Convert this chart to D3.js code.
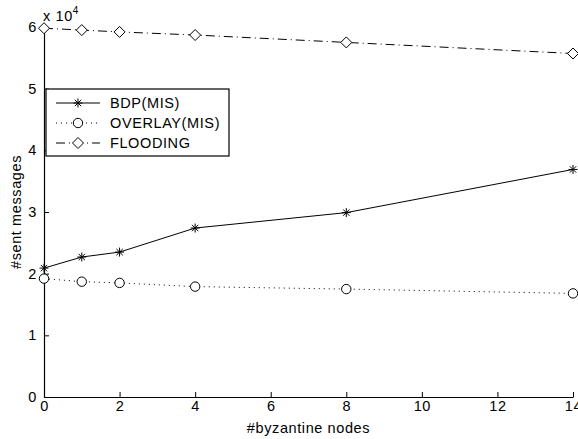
<!DOCTYPE html>
<html>
<head>
<meta charset="utf-8">
<script src="https://cdn.jsdelivr.net/npm/d3@7"></script>
<style>
  body { margin: 0; background: #fff; }
  svg { display: block; }
  text { font-family: "Liberation Sans", Arial, sans-serif; fill: #000; }
</style>
</head>
<body>
<div class="chart"></div>
<script>
var X_NODES = [0, 1, 2, 4, 8, 14];
var BDP_MIS = [2.09, 2.27, 2.35, 2.74, 2.99, 3.69];
var OVERLAY_MIS = [1.92, 1.87, 1.85, 1.79, 1.75, 1.68];
var FLOODING = [5.98, 5.95, 5.92, 5.87, 5.75, 5.57];
var X_TICKS = [0, 2, 4, 6, 8, 10, 12, 14];
var Y_TICKS = [0, 1, 2, 3, 4, 5, 6];

var W = 578, H = 439;
var margin = { left: 44, right: 5, top: 27, bottom: 42 };
/* MATLAB export looks horizontally stretched, fake it with letter spacing */
var FONT_SIZE = "14.5px";
var LETTER_SPACING = "0.6px";

var svg = d3.select("div.chart").append("svg")
  .attr("width", W).attr("height", H);

var x = d3.scaleLinear().domain([0, 14]).range([margin.left, W - margin.right]);
var y = d3.scaleLinear().domain([0, 6]).range([H - margin.bottom, margin.top]);

/* axes: ticks pointing inwards, only left and bottom */
var xAxis = svg.append("g")
  .attr("transform", "translate(0," + y(0) + ")")
  .call(d3.axisBottom(x).tickValues(X_TICKS).tickFormat(d3.format("d"))
          .tickSizeInner(-5).tickSizeOuter(0).tickPadding(7));
var yAxis = svg.append("g")
  .attr("transform", "translate(" + x(0) + ",0)")
  .call(d3.axisLeft(y).tickValues(Y_TICKS).tickFormat(d3.format("d"))
          .tickSizeInner(-5).tickSizeOuter(0).tickPadding(7));

[xAxis, yAxis].forEach(function styleAxis(a) {
  a.select(".domain").attr("stroke", "#000").attr("stroke-width", 1.2);
  a.selectAll(".tick line").attr("stroke", "#000");
  a.selectAll(".tick text")
   .style("font-family", "Liberation Sans, Arial, sans-serif")
   .style("font-size", FONT_SIZE).style("letter-spacing", LETTER_SPACING)
   .attr("fill", "#000");
});
xAxis.selectAll(".tick text").attr("dy", "0.5em");

function styled(t) {
  return t.style("font-size", FONT_SIZE).style("letter-spacing", LETTER_SPACING);
}

/* exponent label */
var expo = styled(svg.append("text").attr("x", 43).attr("y", 21));
expo.append("tspan").text("x 10");
expo.append("tspan").attr("dy", -7).style("font-size", "10px").text("4");

/* axis titles */
styled(svg.append("text")
  .attr("x", (x(0) + x(14)) / 2).attr("y", 433)
  .attr("text-anchor", "middle"))
  .text("#byzantine nodes");
styled(svg.append("text")
  .attr("transform", "translate(21," + ((y(0) + y(6)) / 2) + ") rotate(-90)")
  .attr("text-anchor", "middle"))
  .text("#sent messages");

var line = d3.line()
  .x(function lx(d) { return x(d[0]); })
  .y(function ly(d) { return y(d[1]); });

function zip(vals) {
  return X_NODES.map(function pair(v, i) { return [v, vals[i]]; });
}

var series = [
  { name: "BDP(MIS)", values: BDP_MIS, dash: null, marker: "star" },
  { name: "OVERLAY(MIS)", values: OVERLAY_MIS, dash: "1,4", marker: "circle" },
  { name: "FLOODING", values: FLOODING, dash: "9,4,1,4", marker: "diamond" }
];

function drawMarker(g, kind, cx, cy) {
  if (kind === "star") {
    var r = 4.5;
    [0, 45, 90, 135].forEach(function arm(a) {
      var rad = a * Math.PI / 180;
      g.append("line")
        .attr("x1", cx - r * Math.cos(rad)).attr("y1", cy - r * Math.sin(rad))
        .attr("x2", cx + r * Math.cos(rad)).attr("y2", cy + r * Math.sin(rad))
        .attr("stroke", "#000").attr("stroke-width", 1);
    });
  } else if (kind === "circle") {
    g.append("circle").attr("cx", cx).attr("cy", cy).attr("r", 4.7)
      .attr("fill", "#fff").attr("stroke", "#000").attr("stroke-width", 1);
  } else {
    var s = 5.5;
    g.append("path")
      .attr("d", "M" + cx + "," + (cy - s) + "L" + (cx + s) + "," + cy +
                 "L" + cx + "," + (cy + s) + "L" + (cx - s) + "," + cy + "Z")
      .attr("fill", "#fff").attr("stroke", "#000").attr("stroke-width", 1);
  }
}

series.forEach(function drawSeries(s) {
  var data = zip(s.values);
  svg.append("path").datum(data)
    .attr("d", line).attr("fill", "none")
    .attr("stroke", "#000").attr("stroke-width", 1)
    .attr("stroke-dasharray", s.dash);
  var g = svg.append("g");
  data.forEach(function eachPoint(d) {
    drawMarker(g, s.marker, x(d[0]), y(d[1]));
  });
});

/* legend */
var lg = svg.append("g");
lg.append("rect").attr("x", 46).attr("y", 89).attr("width", 183).attr("height", 67)
  .attr("fill", "#fff").attr("stroke", "#000").attr("stroke-width", 1.2);
series.forEach(function legendRow(s, i) {
  var ry = 103 + i * 20;
  lg.append("line").attr("x1", 56).attr("x2", 100).attr("y1", ry).attr("y2", ry)
    .attr("stroke", "#000").attr("stroke-width", 1).attr("stroke-dasharray", s.dash);
  drawMarker(lg, s.marker, 78, ry);
  styled(lg.append("text").attr("x", 110).attr("y", ry).attr("dy", "0.36em"))
    .text(s.name);
});
</script>
</body>
</html>
